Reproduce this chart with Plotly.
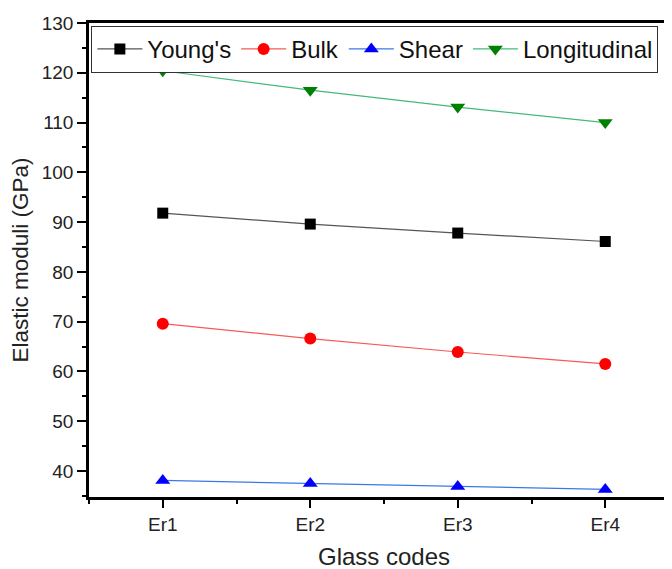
import plotly.graph_objects as go

categories = ["Er1", "Er2", "Er3", "Er4"]
youngs = [91.8, 89.6, 87.8, 86.1]
bulk = [69.6, 66.6, 63.9, 61.5]
shear = [38.1, 37.5, 36.9, 36.3]
longitudinal = [120.4, 116.5, 113.1, 110.0]

x_pos = list(range(1, len(categories) + 1))

series = [
    ("Young's", youngs, "square", "black", "#555555", 11),
    ("Bulk", bulk, "circle", "#FF0000", "#F65A5A", 12),
    ("Shear", shear, "triangle-up", "#0000FF", "#3A78E6", 13),
    ("Longitudinal", longitudinal, "triangle-down", "#008000", "#45B97A", 13),
]

fig = go.Figure()
for name, vals, sym, mcol, lcol, msize in series:
    fig.add_trace(go.Scatter(
        x=x_pos, y=vals, name=name, mode="lines+markers",
        line=dict(color=lcol, width=1.2),
        marker=dict(symbol=sym, color=mcol, size=msize, line=dict(width=0)),
    ))

font = "Liberation Sans, Arial, sans-serif"
fig.update_layout(
    width=672, height=569,
    margin=dict(l=81, r=1, t=15, b=80, autoexpand=False),
    plot_bgcolor="white", paper_bgcolor="white",
    font=dict(family=font, color="black"),
    showlegend=True,
    legend=dict(
        orientation="h", x=0.004, y=0.994, xanchor="left", yanchor="top",
        bgcolor="white", bordercolor="#333333", borderwidth=1,
        font=dict(size=24, family=font, color="#111"), itemwidth=45,
    ),
    xaxis=dict(
        range=[0.5, 4.5], tickmode="array", tickvals=x_pos, ticktext=categories,
        showgrid=False, zeroline=False, showline=True, linecolor="black",
        linewidth=2.5, mirror=True, ticks="outside", ticklen=8, tickwidth=2,
        tickcolor="black", tickfont=dict(size=19, color="#222"), automargin=False,
        title=dict(text="Glass codes", font=dict(size=24, color="#222"), standoff=15),
        minor=dict(tickmode="array", tickvals=[0.5, 1.5, 2.5, 3.5], ticks="outside",
                   ticklen=4, tickwidth=2, tickcolor="black"),
    ),
    yaxis=dict(
        range=[34.77, 130], tickmode="linear", tick0=40, dtick=10,
        showgrid=False, zeroline=False, showline=True, linecolor="black",
        linewidth=2.5, mirror=False, ticks="outside", ticklen=9, tickwidth=2,
        tickcolor="black", tickfont=dict(size=19, color="#222"), automargin=False,
        title=dict(text="Elastic moduli (GPa)", font=dict(size=22.5, color="#222"), standoff=9),
        minor=dict(tick0=35, dtick=5, ticks="outside", ticklen=4, tickwidth=2,
                   tickcolor="black"),
    ),
)

fig.write_html("out.html")
